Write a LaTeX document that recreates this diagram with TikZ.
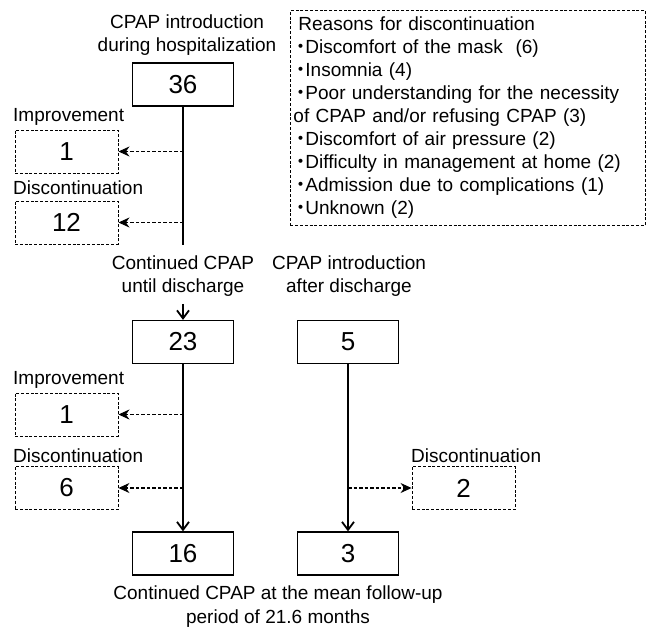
\documentclass[tikz,border=0pt]{standalone}
\usepackage{fontspec}
\setmainfont{Liberation Sans}
\newfontfamily\cjk{Noto Sans CJK JP}
\usetikzlibrary{arrows.meta}
\newcommand\bul{\makebox[12pt][l]{\hspace{-2pt}{\cjk ・}}}
\begin{document}
\begin{tikzpicture}[x=1pt,y=-1pt,
  lbl/.style={font=\fontsize{19}{23.5}\selectfont, inner sep=0pt, align=center},
  num/.style={draw, line width=1.3pt, minimum width=101pt, minimum height=43pt, inner sep=0pt, font=\fontsize{26}{26}\selectfont},
  dnum/.style={draw, dash pattern=on 3pt off 1.8pt, line width=0.9pt, minimum width=103pt, minimum height=43pt, inner sep=0pt, font=\fontsize{26}{26}\selectfont},
  flow/.style={line width=2pt, -{Straight Barb[length=8pt,width=12pt,line width=1.8pt]}},
  dflow/.style={line width=1.1pt, dash pattern=on 3.5pt off 2pt, -{Stealth[length=11pt,width=10pt]}},
]
\useasboundingbox (0,0) rectangle (649,629);

% top column
\node[lbl] (t1) at (187,35) {CPAP introduction\\during hospitalization};
\node[num] (b36) at (183,84.5) {36};
\coordinate (e36) at (183,245);
\draw[line width=2pt] (b36.south) -- (e36);

\node[lbl, anchor=west] (li1) at (13,117) {Improvement};
\node[dnum] (i1) at (66.5,151.5) {1};
\node[lbl, anchor=west] (ld1) at (13,188) {Discontinuation};
\node[dnum] (d1) at (66.5,222.5) {12};
\draw[dflow] (b36.south |- i1.east) -- (i1.east);
\draw[dflow] (b36.south |- d1.east) -- (d1.east);

% reasons
\node[draw, dash pattern=on 3pt off 1.8pt, line width=0.9pt, anchor=north west,
  minimum width=355pt, minimum height=215pt, text width=349pt, inner xsep=3pt,
  align=left, font=\fontsize{19}{23}\selectfont] (rs) at (290,10)
  {\hspace{5pt}Reasons for discontinuation\\
   \bul Discomfort of the mask\ \ (6)\\
   \bul Insomnia (4)\\
   \bul Poor understanding for the necessity\\
   of CPAP and/or refusing CPAP (3)\\
   \bul Discomfort of air pressure (2)\\
   \bul Difficulty in management at home (2)\\
   \bul Admission due to complications (1)\\
   \bul Unknown (2)};

% second stage
\node[lbl] (c1) at (183,276) {Continued CPAP\\until discharge};
\node[lbl] (c2) at (349,276) {CPAP introduction\\after discharge};
\node[num] (b23) at (183,342) {23};
\node[num] (b5) at (348,342) {5};
\draw[flow, shorten <=7pt] (c1.south) -- (b23.north);

\node[lbl, anchor=west] (li2) at (13,380) {Improvement};
\node[dnum] (i2) at (66.5,414.5) {1};
\node[lbl, anchor=west] (ld2) at (13,456) {Discontinuation};
\node[dnum] (d2) at (66.5,488) {6};
\node[lbl, anchor=west] (ld3) at (411,456) {Discontinuation};
\node[dnum] (d3) at (463.5,488) {2};

\node[num] (b16) at (183,553.5) {16};
\node[num] (b3) at (348,553.5) {3};
\draw[flow] (b23.south) -- (b16.north);
\draw[flow] (b5.south) -- (b3.north);
\draw[dflow] (b23.south |- i2.east) -- (i2.east);
\draw[dflow] (b23.south |- d2.east) -- (d2.east);
\draw[dflow] (b5.south |- d3.west) -- (d3.west);

\node[lbl] (bt) at (278,606.5) {Continued CPAP at the mean follow-up\\period of 21.6 months};
\end{tikzpicture}
\end{document}
